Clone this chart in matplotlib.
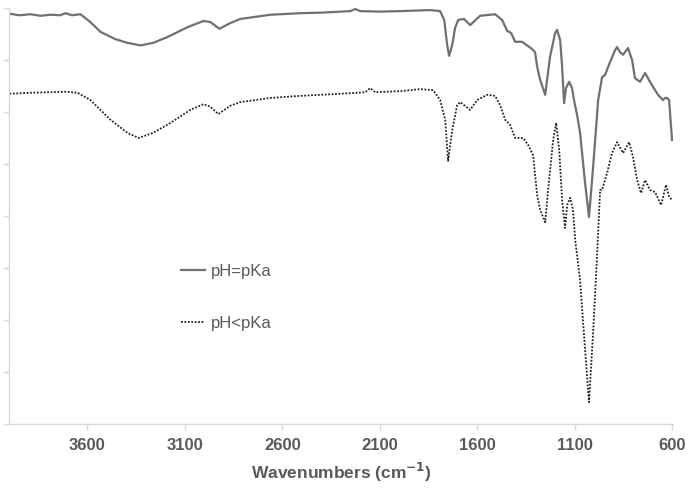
import matplotlib
matplotlib.use("Agg")
import matplotlib.pyplot as plt

plt.rcParams['font.family'] = ['Liberation Sans', 'DejaVu Sans']

# pH = pKa (solid)
wn_eq = [4000, 3950, 3892, 3840, 3790, 3740, 3713, 3680, 3636, 3585, 3533, 3456, 3395,
         3328, 3262, 3190, 3087, 3005, 2969, 2923, 2867, 2815, 2661, 2508, 2400,
         2251, 2226, 2200, 2100, 1995, 1841, 1790, 1769, 1754, 1744, 1728, 1713,
         1697, 1667, 1636, 1585, 1508, 1472, 1446, 1426, 1405, 1369, 1318, 1303,
         1292, 1277, 1251, 1226, 1200, 1190, 1174, 1164, 1154, 1144, 1128, 1113,
         1103, 1087, 1072, 1046, 1026, 1005, 979, 959, 944, 918, 892, 882, 867,
         851, 826, 805, 790, 764, 738, 713, 687, 672, 646, 636, 626, 615, 600]
t_eq = [78.9, 78.6, 78.8, 78.5, 78.7, 78.6, 79.0, 78.6, 78.8, 77.3, 75.4, 74.0, 73.3,
        72.8, 73.3, 74.4, 76.3, 77.5, 77.3, 76.0, 77.1, 77.9, 78.7, 79.0, 79.1,
        79.4, 79.8, 79.4, 79.3, 79.4, 79.6, 79.4, 77.7, 72.9, 70.8, 72.9, 76.2,
        77.7, 77.9, 76.7, 78.5, 78.8, 77.7, 75.6, 75.2, 73.5, 73.5, 72.1, 71.5,
        68.7, 66.2, 63.3, 70.6, 75.2, 75.8, 73.8, 68.7, 61.7, 64.6, 65.8, 64.6,
        62.3, 59.4, 56.0, 46.3, 39.8, 49.4, 62.3, 66.7, 67.1, 69.6, 71.9, 72.5, 71.5,
        71.0, 72.3, 70.0, 66.5, 65.8, 67.5, 65.8, 64.2, 63.3, 62.3, 62.7, 62.7, 62.3, 54.6]

# pH < pKa (dotted)
wn_lt = [4000, 3892, 3790, 3713, 3651, 3585, 3482, 3395, 3338, 3262, 3174, 3072, 3005,
         2969, 2928, 2867, 2815, 2661, 2508, 2303, 2174, 2149, 2123, 1995, 1892,
         1826, 1790, 1764, 1749, 1728, 1703, 1687, 1636, 1600, 1549, 1508, 1482,
         1456, 1431, 1405, 1364, 1339, 1313, 1292, 1277, 1251, 1236, 1210, 1195,
         1179, 1164, 1149, 1138, 1123, 1108, 1097, 1072, 1046, 1026, 1005, 985,
         969, 959, 933, 908, 882, 851, 820, 800, 779, 759, 738, 713, 687, 656,
         631, 615, 600]
t_lt = [63.5, 63.7, 63.8, 63.9, 63.7, 62.3, 58.5, 56.0, 55.0, 56.0, 57.9, 60.4, 61.5,
        61.0, 59.6, 61.2, 61.9, 62.7, 63.1, 63.5, 63.8, 64.6, 63.8, 64.0, 64.4,
        64.2, 62.3, 58.5, 50.6, 56.5, 61.3, 61.9, 60.4, 62.3, 63.3, 63.1, 61.3,
        58.5, 57.5, 55.0, 55.0, 53.7, 51.7, 44.0, 41.2, 38.8, 45.0, 54.6, 57.9,
        52.7, 43.1, 37.7, 42.1, 43.5, 41.2, 35.4, 27.7, 14.2, 4.2, 17.5, 32.1,
        45.0, 45.0, 48.3, 52.1, 54.2, 52.1, 54.2, 51.3, 46.9, 44.4, 46.9, 45.0, 44.6, 42.1,
        46.0, 43.7, 43.1]

labels = ['pH=pKa', 'pH<pKa']
xticks = [3600, 3100, 2600, 2100, 1600, 1100, 600]

fig = plt.figure(figsize=(6.88, 4.93), dpi=100)
ax = fig.add_axes([0.0138, 0.140, 0.9644, 0.8438])

ax.plot(wn_eq, t_eq, color='#707070', lw=1.6, label=labels[0])
ax.plot(wn_lt, t_lt, color='#222222', lw=1.3, linestyle=(0, (1, 0.9)), label=labels[1])

ax.set_xlim(4000, 595)
ax.set_ylim(0, 80)
ax.set_xticks(xticks)
ax.set_yticks(range(0, 81, 10))
ax.set_yticklabels([])
for lab in ax.get_xticklabels():
    lab.set_fontweight('bold')
ax.tick_params(axis='x', colors='#d9d9d9', labelcolor='#595959', labelsize=12,
               length=4, width=1, pad=6)
ax.tick_params(axis='y', colors='#d9d9d9', length=4, width=1)
for s in ['top', 'right']:
    ax.spines[s].set_visible(False)
for s in ['left', 'bottom']:
    ax.spines[s].set_color('#d9d9d9')
    ax.spines[s].set_linewidth(1)

ax.set_xlabel('Wavenumbers (cm$^{\\mathbf{-1}}$)', fontsize=12.5, fontweight='bold',
              color='#595959', labelpad=6)

leg = ax.legend(loc='upper left', bbox_to_anchor=(181 / 688, 1 - 264 / 493),
                bbox_transform=fig.transFigure, frameon=False, fontsize=12,
                handlelength=1.45, handletextpad=0.35, labelspacing=2.2,
                borderpad=0, borderaxespad=0)
for t in leg.get_texts():
    t.set_color('#595959')

fig.savefig('out.png', dpi=100)
